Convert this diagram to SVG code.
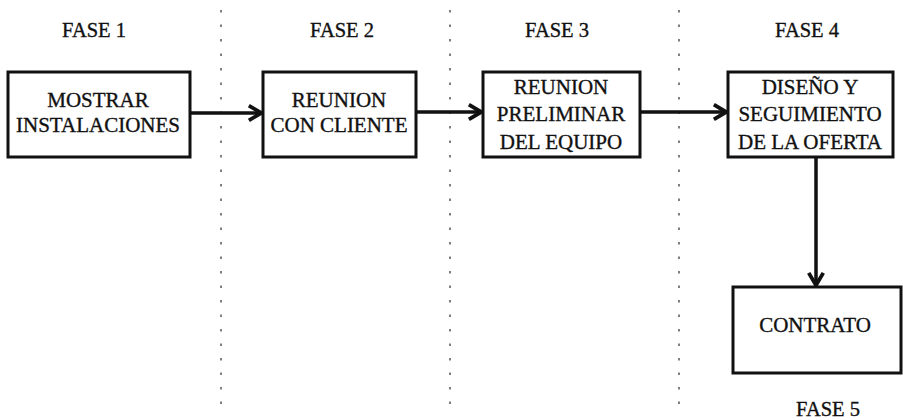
<svg xmlns="http://www.w3.org/2000/svg" width="903" height="420" viewBox="0 0 903 420">
<style>
.box{fill:#fff;stroke:#111;stroke-width:3}
.t{font-family:"Liberation Serif",serif;font-size:21px;fill:#111;stroke:#111;stroke-width:0.35;text-anchor:middle}
.ph{font-family:"Liberation Serif",serif;font-size:20.5px;fill:#111;stroke:#111;stroke-width:0.35;text-anchor:middle}
.sep{stroke:#555;stroke-width:1.5;stroke-dasharray:2.5 12}
.c{stroke:#111;stroke-width:3.5;fill:none}
</style>
<defs>
<marker id="ah" viewBox="0 0 12 12" refX="11" refY="6" markerWidth="5" markerHeight="5" markerUnits="strokeWidth" orient="auto">
<polyline points="2,1 10.5,6 2,11" fill="none" stroke="#111" stroke-width="2.6"/>
</marker>
</defs>
<g id="separators">
<line class="sep" x1="221" y1="10" x2="221" y2="404"/>
<line class="sep" x1="450" y1="10" x2="450" y2="404"/>
<line class="sep" x1="679" y1="10" x2="679" y2="404"/>
</g>
<g id="phases">
<text class="ph" x="94" y="37">FASE 1</text>
<text class="ph" x="342" y="37">FASE 2</text>
<text class="ph" x="557" y="37">FASE 3</text>
<text class="ph" x="807" y="37">FASE 4</text>
<text class="ph" x="828" y="416">FASE 5</text>
</g>
<g id="connectors">
<line class="c" x1="190" y1="113" x2="262" y2="113" marker-end="url(#ah)"/>
<line class="c" x1="416" y1="112" x2="482" y2="112" marker-end="url(#ah)"/>
<line class="c" x1="640" y1="112" x2="727" y2="112" marker-end="url(#ah)"/>
<line class="c" x1="816" y1="157" x2="816" y2="286" marker-end="url(#ah)"/>
</g>
<g id="n1">
<rect class="box" x="8" y="72" width="182" height="85"/>
<text class="t" x="98" y="107">MOSTRAR</text>
<text class="t" x="98" y="132">INSTALACIONES</text>
</g>
<g id="n2">
<rect class="box" x="263" y="72" width="153" height="85"/>
<text class="t" x="339" y="107">REUNION</text>
<text class="t" x="339" y="132">CON CLIENTE</text>
</g>
<g id="n3">
<rect class="box" x="483" y="72" width="157" height="85"/>
<text class="t" x="561" y="94">REUNION</text>
<text class="t" x="561" y="121">PRELIMINAR</text>
<text class="t" x="561" y="149">DEL EQUIPO</text>
</g>
<g id="n4">
<rect class="box" x="728" y="72" width="165" height="85"/>
<text class="t" x="810" y="94">DISEÑO Y</text>
<text class="t" x="810" y="121">SEGUIMIENTO</text>
<text class="t" x="810" y="149">DE LA OFERTA</text>
</g>
<g id="n5">
<rect class="box" x="733" y="287" width="168" height="86"/>
<text class="t" x="815" y="332">CONTRATO</text>
</g>
</svg>
